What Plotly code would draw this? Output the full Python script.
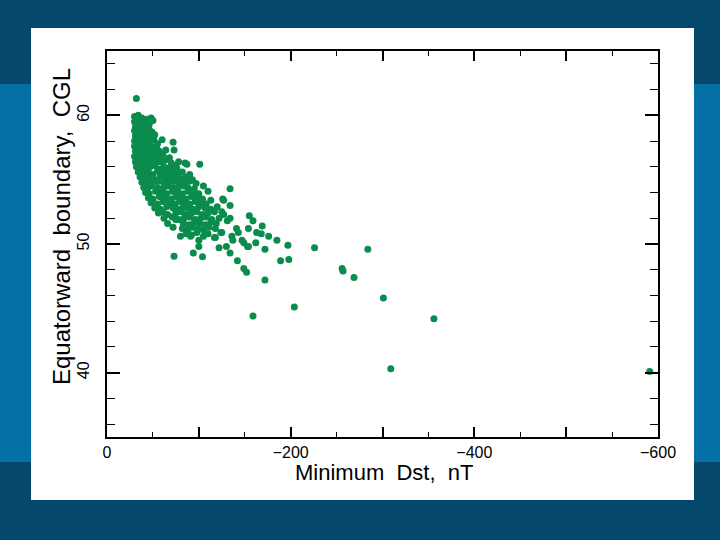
import plotly.graph_objects as go

# ---- data ----
dst = [
    -32, -30, -34, -38, -44, -48,
    -30, -33, -36, -40, -43, -46, -50,
    -31, -32, -35, -38, -41, -45,
    -30, -33, -36, -39, -42, -46, -49,
    -31, -34, -37, -40, -44, -48, -52, -60,
    -30, -33, -36, -39, -43, -47, -51, -55,
    -30, -32, -35, -38, -42, -45, -49, -54, -72,
    -31, -34, -37, -40, -44, -48, -52, -57, -64, -73,
    -30, -33, -36, -40, -43, -47, -51, -56, -61, -68,
    -31, -34, -38, -41, -45, -49, -53, -58, -63, -70, -78, -85,
    -32, -35, -39, -43, -47, -52, -57, -62, -67, -73, -76, -87, -101,
    -34, -37, -41, -45, -50, -55, -60, -65, -70, -76, -82, -90,
    -36, -39, -42, -47, -52, -58, -63, -68, -74, -80, -86, -93,
    -38, -41, -45, -50, -56, -62, -67, -73, -78, -84, -90, -97,
    -40, -44, -48, -55, -61, -66, -72, -77, -83, -88, -95, -105, -134,
    -42, -46, -53, -59, -65, -71, -76, -82, -88, -94, -100, -110,
    -45, -50, -57, -63, -70, -75, -81, -86, -92, -98, -104, -113, -127,
    -48, -55, -61, -68, -74, -79, -85, -90, -96, -102, -108, -126, -134,
    -52, -58, -65, -72, -78, -83, -88, -94, -100, -107, -113, -120,
    -56, -61, -66, -75, -81, -86, -92, -98, -104, -110, -117, -125, -127,
    -62, -71, -78, -84, -90, -96, -102, -108, -114, -122, -131, -134,
    -66, -75, -83, -89, -95, -101, -107, -113, -119, -155, -159,
    -72, -82, -88, -93, -99, -105, -111, -118, -125, -141, -154, -169,
    -80, -86, -92, -98, -105, -110, -117, -124, -136, -143, -163, -168,
    -91, -100, -118, -137, -147, -149, -176, -185,
    -100, -122, -130, -153, -154, -162, -197,
    -94, -104, -134, -172, -226, -284,
    -73, -142, -189, -198,
    -149, -152, -256, -257, -269, -172,
    -301, -356, -204, -159, -309, -591,
]
cgl = [
    61.3, 59.9, 60.0, 59.8, 59.7, 59.8,
    59.5, 59.7, 59.4, 59.6, 59.5, 59.3, 59.6,
    59.1, 59.3, 59.2, 59.0, 59.2, 59.1,
    58.8, 58.7, 58.9, 58.8, 58.6, 58.9, 58.7,
    58.4, 58.3, 58.5, 58.2, 58.4, 58.3, 58.5, 58.1,
    58.0, 57.9, 58.1, 57.8, 58.0, 57.9, 58.1, 57.8,
    57.6, 57.5, 57.7, 57.6, 57.4, 57.7, 57.5, 57.6, 57.9,
    57.2, 57.1, 57.3, 57.0, 57.2, 57.3, 57.1, 57.2, 57.3, 57.3,
    56.8, 56.9, 56.7, 56.8, 56.6, 56.9, 56.8, 56.7, 56.9, 56.7,
    56.4, 56.3, 56.5, 56.4, 56.2, 56.5, 56.3, 56.4, 56.5, 56.3, 56.4, 56.3,
    56.0, 55.9, 56.1, 55.9, 56.0, 56.1, 55.8, 56.0, 55.9, 56.1, 55.9, 56.2, 56.2,
    55.6, 55.5, 55.7, 55.6, 55.4, 55.7, 55.5, 55.6, 55.7, 55.5, 55.6, 55.4,
    55.2, 55.1, 55.3, 55.2, 55.0, 55.3, 55.1, 55.2, 55.3, 55.1, 55.2, 55.0,
    54.8, 54.9, 54.7, 54.8, 54.9, 54.7, 54.8, 54.9, 54.7, 54.8, 54.9, 54.7,
    54.4, 54.3, 54.5, 54.4, 54.3, 54.5, 54.4, 54.3, 54.5, 54.4, 54.3, 54.5, 54.3,
    54.0, 53.9, 54.1, 54.0, 53.9, 54.1, 54.0, 53.9, 54.1, 54.0, 53.9, 54.1,
    53.6, 53.5, 53.7, 53.6, 53.5, 53.7, 53.6, 53.5, 53.7, 53.6, 53.5, 53.4, 53.4,
    53.2, 53.1, 53.3, 53.2, 53.1, 53.3, 53.2, 53.1, 53.3, 53.2, 53.1, 53.5, 53.0,
    52.8, 52.7, 52.9, 52.8, 52.7, 52.9, 52.8, 52.7, 52.9, 52.8, 52.7, 52.9,
    52.4, 52.5, 52.3, 52.4, 52.5, 52.3, 52.4, 52.5, 52.3, 52.4, 52.5, 52.5, 52.3,
    52.0, 52.1, 51.9, 52.0, 52.1, 51.9, 52.0, 52.1, 51.9, 52.0, 51.8, 52.0,
    51.6, 51.9, 51.6, 51.5, 51.7, 51.6, 51.5, 51.7, 51.6, 52.2, 51.8,
    51.3, 51.2, 51.1, 51.3, 51.2, 51.1, 51.3, 51.2, 50.9, 51.2, 51.2, 51.4,
    50.6, 50.8, 50.7, 50.9, 50.6, 50.8, 50.5, 50.9, 50.6, 50.9, 50.9, 50.8,
    50.6, 50.3, 50.5, 50.3, 50.3, 50.1, 50.6, 50.3,
    49.8, 49.7, 49.8, 49.8, 49.8, 50.1, 49.9,
    49.3, 49.0, 49.3, 49.6, 49.7, 49.6,
    49.05, 48.7, 48.7, 48.8,
    48.1, 47.8, 48.1, 47.9, 47.4, 47.2,
    45.8, 44.2, 45.1, 44.4, 40.3, 40.1,
]

x_tickvals = [0, -100, -200, -300, -400, -500, -600]
x_ticktext = ["0", "", "\u2212200", "", "\u2212400", "", "\u2212600"]
y_tickvals = [40, 50, 60]
y_ticktext = ["40", "50", "60"]

GREEN = "#0a8c4c"
FONT = "Liberation Sans, Arial, Helvetica, sans-serif"

fig = go.Figure()
fig.add_trace(go.Scatter(
    x=dst, y=cgl, mode="markers",
    marker=dict(color=GREEN, size=7, line=dict(width=0)),
    showlegend=False, hoverinfo="skip",
))

W, H = 720, 540
L, R, T, B = 107, 62, 51, 103
pw, ph = W - L - R, H - T - B


def px_x(p):
    return (p - L) / pw


def px_y(p):
    return (H - B - p) / ph


shapes = [
    # top dark band
    dict(type="rect", xref="paper", yref="paper", layer="below",
         x0=px_x(-5), x1=px_x(W + 5), y0=px_y(84), y1=px_y(-5),
         fillcolor="#05486b", line=dict(width=0)),
    # bottom dark band
    dict(type="rect", xref="paper", yref="paper", layer="below",
         x0=px_x(-5), x1=px_x(W + 5), y0=px_y(H + 5), y1=px_y(462),
         fillcolor="#05486b", line=dict(width=0)),
    # white panel
    dict(type="rect", xref="paper", yref="paper", layer="below",
         x0=px_x(31), x1=px_x(694), y0=px_y(500), y1=px_y(28),
         fillcolor="white", line=dict(width=0)),
]

fig.update_layout(
    width=W, height=H,
    margin=dict(l=L, r=R, t=T, b=B, pad=0),
    paper_bgcolor="#0470a6",
    plot_bgcolor="white",
    shapes=shapes,
    font=dict(family=FONT, color="black"),
    xaxis=dict(
        range=[0, -600], showgrid=False, zeroline=False,
        showline=True, linecolor="black", linewidth=2, mirror="ticks",
        ticks="inside", ticklen=10, tickwidth=1.6, tickcolor="black",
        tickvals=x_tickvals, ticktext=x_ticktext,
        tickfont=dict(size=16, family=FONT, color="black"),
        ticklabelstandoff=0,
        minor=dict(dtick=50, ticklen=5, tickwidth=1.3, tickcolor="black",
                   ticks="inside", showgrid=False),
    ),
    yaxis=dict(
        range=[35, 65], showgrid=False, zeroline=False,
        showline=True, linecolor="black", linewidth=2, mirror="ticks",
        ticks="inside", ticklen=13, tickwidth=1.6, tickcolor="black",
        tickvals=y_tickvals, ticktext=y_ticktext, tickangle=-90,
        tickfont=dict(size=16, family=FONT, color="black"),
        ticklabelstandoff=10,
        minor=dict(dtick=2, ticklen=8, tickwidth=1.3, tickcolor="black",
                   ticks="inside", showgrid=False),
    ),
    annotations=[
        dict(text="Minimum\u00a0 Dst,\u00a0 nT", xref="paper", yref="paper",
             x=px_x(384), y=px_y(473), showarrow=False,
             font=dict(size=22, family=FONT, color="black"),
             xanchor="center", yanchor="middle"),
        dict(text="Equatorward\u00a0 boundary,\u00a0 CGL", xref="paper", yref="paper",
             x=px_x(62), y=px_y(227), showarrow=False, textangle=-90,
             font=dict(size=24, family=FONT, color="black"),
             xanchor="center", yanchor="middle"),
    ],
)

fig.write_html(
    "out.html",
    config={"displayModeBar": False},
    post_script="document.body.style.margin='0';document.body.style.overflow='hidden';",
)
